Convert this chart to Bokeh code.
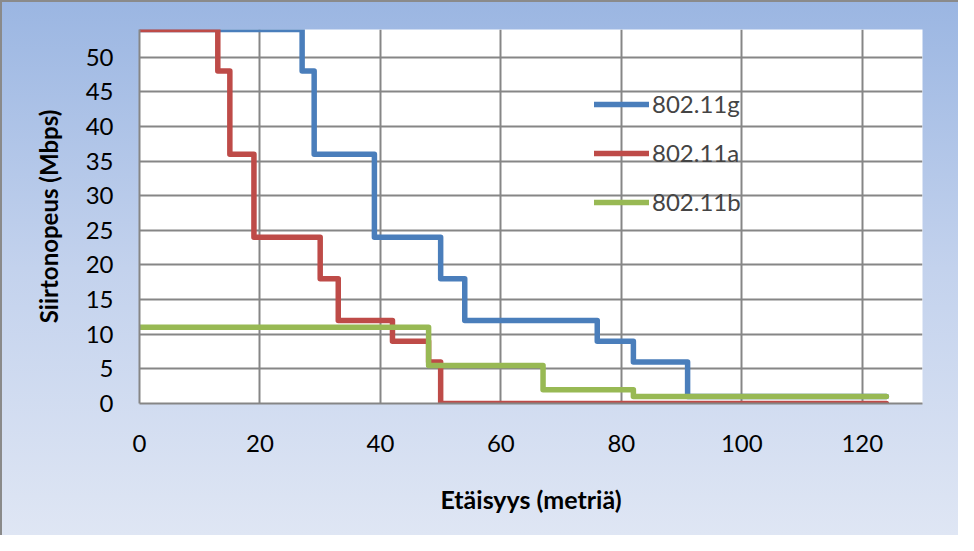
from bokeh.plotting import figure
from bokeh.models import Range1d, FixedTicker, Legend, LegendItem
from bokeh.embed import file_html
from bokeh.resources import INLINE

# Data (distance in metres, throughput in Mbps), step "after"
g_x = [0, 27, 29, 39, 50, 54, 76, 82, 91, 124]
g_y = [54, 48, 36, 24, 18, 12, 9, 6, 1, 1]
a_x = [0, 13, 15, 19, 30, 33, 42, 48, 50, 124]
a_y = [54, 48, 36, 24, 18, 12, 9, 6, 0, 0]
b_x = [0, 48, 67, 82, 124]
b_y = [11, 5.5, 2, 1, 1]
x_ticks = [0, 20, 40, 60, 80, 100, 120]
y_ticks = [0, 5, 10, 15, 20, 25, 30, 35, 40, 45, 50]
series_names = ["802.11g", "802.11a", "802.11b"]
colors = ["#4A7EBB", "#BE4B48", "#98B954"]

FONT = "Lato"

p = figure(width=958, height=535, output_backend="svg", toolbar_location=None,
           x_range=Range1d(0, 130), y_range=Range1d(0, 54),
           min_border_left=137, min_border_right=38, min_border_top=27, min_border_bottom=134,
           styles={"background": "linear-gradient(to bottom, #9bb6e2 0%, #c3d2ed 50%, #dfe6f4 100%)",
                   "border-left": "2px solid #8a8a8a", "border-top": "2px solid #8a8a8a",
                   "box-sizing": "border-box"})
p.border_fill_alpha = 0
p.background_fill_color = "white"
p.outline_line_color = None

renderers = []
for xs, ys, c in zip([g_x, a_x, b_x], [g_y, a_y, b_y], colors):
    r = p.step(xs, ys, mode="after", line_color=c, line_width=5.5,
               line_join="round", line_cap="round")
    renderers.append(r)

for ax in (p.xaxis[0], p.yaxis[0]):
    ax.major_tick_line_color = None
    ax.minor_tick_line_color = None
    ax.major_tick_out = 0
    ax.major_tick_in = 0
    ax.axis_line_color = "#868686"
    ax.axis_line_width = 2
    ax.major_label_text_font = FONT
    ax.major_label_text_font_size = "24px"
    ax.major_label_text_color = "black"
    ax.axis_label_text_font = FONT
    ax.axis_label_text_font_style = "bold"
    ax.axis_label_text_color = "black"

p.xaxis.axis_label_text_font_size = "25px"
p.yaxis.axis_label_text_font_size = "24px"
p.xaxis.ticker = FixedTicker(ticks=x_ticks)
p.yaxis.ticker = FixedTicker(ticks=y_ticks)
p.xaxis.axis_label = "Etäisyys (metriä)"
p.yaxis.axis_label = "Siirtonopeus (Mbps)"
p.xaxis.major_label_standoff = 31
p.xaxis.axis_label_standoff = 29
p.yaxis.major_label_standoff = 26
p.yaxis.axis_label_standoff = 20

p.xgrid.ticker = FixedTicker(ticks=x_ticks)
p.ygrid.ticker = FixedTicker(ticks=y_ticks)
for gr in (p.xgrid[0], p.ygrid[0]):
    gr.grid_line_color = "#868686"
    gr.grid_line_width = 2

legend = Legend(items=[LegendItem(label=n, renderers=[r]) for n, r in zip(series_names, renderers)],
                location=(455, 187), padding=0, margin=0, spacing=20,
                glyph_width=55, glyph_height=20, label_standoff=3,
                label_text_font=FONT, label_text_font_size="24px",
                border_line_alpha=0, background_fill_alpha=0)
p.add_layout(legend)

open("out.html", "w").write(file_html(p, INLINE))
